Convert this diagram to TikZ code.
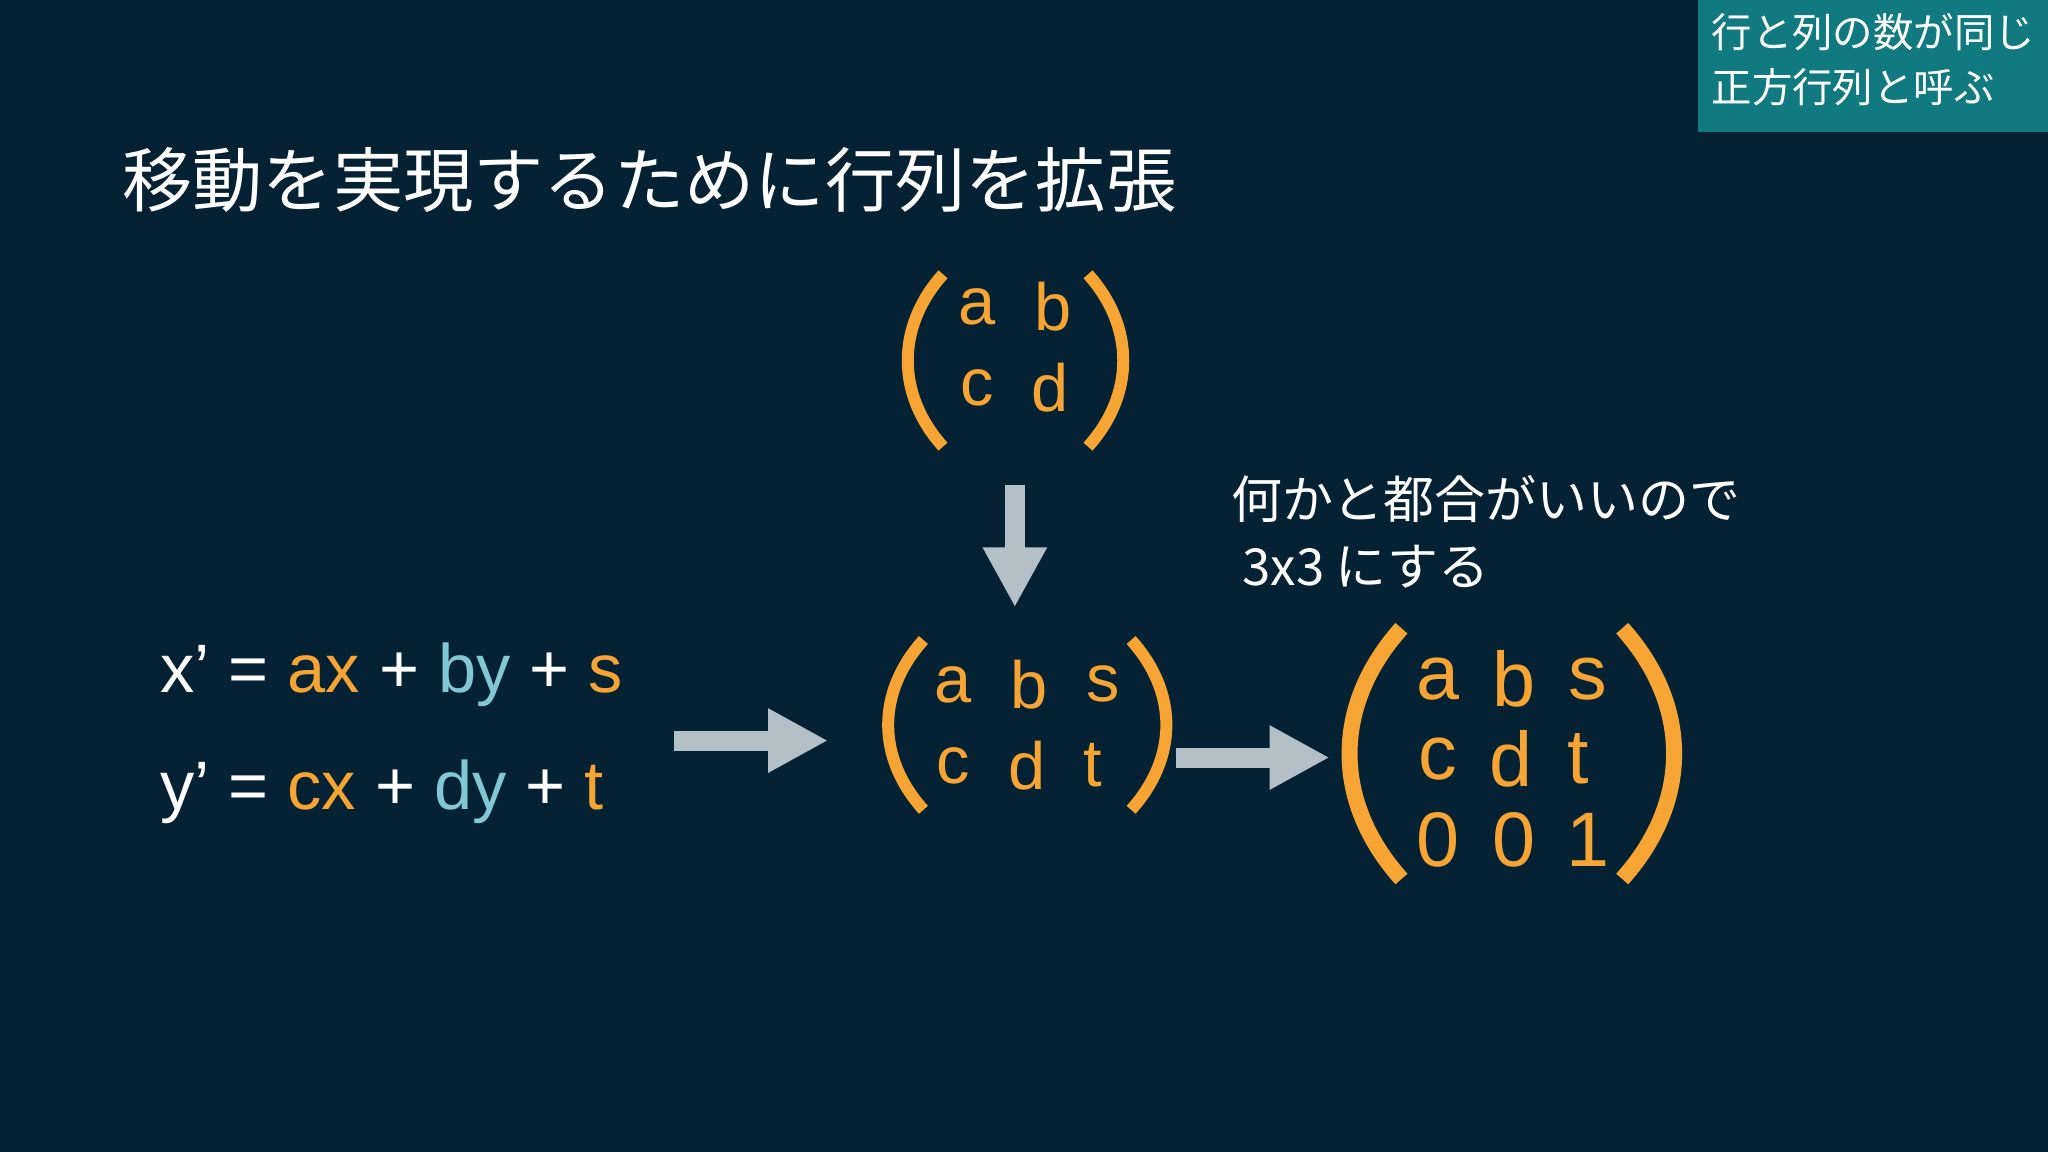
\documentclass[tikz,border=0pt]{standalone}
\usepackage{fontspec}
\setmainfont{Liberation Sans}
\newfontfamily\jp{Noto Sans CJK JP}
\usetikzlibrary{arrows.meta}
\definecolor{bg}{RGB}{4,34,51}
\definecolor{teal}{RGB}{17,122,128}
\definecolor{org}{RGB}{246,164,52}
\definecolor{lblue}{RGB}{130,200,212}
\definecolor{arr}{RGB}{180,192,200}
\tikzset{
 paren/.style={draw=org,line width=0.12cm},
 bigparen/.style={draw=org,line width=0.16cm},
 fat/.style={draw=arr,line width=0.2cm,-{Triangle[length=0.6cm,width=0.6cm]}},
 ent/.style={text=org,font=\fontsize{19}{22}\selectfont,inner sep=0pt},
 bent/.style={text=org,font=\fontsize{22}{25}\selectfont,inner sep=0pt},
 eq/.style={text=white,font=\fontsize{19.5}{23}\selectfont,anchor=west,inner sep=0pt},
}
\begin{document}
\begin{tikzpicture}[x=0.01306cm,y=-0.01306cm]
\fill[bg] (0,0) rectangle (1568,882);
\useasboundingbox (0,0) rectangle (1568,882);
\fill[teal] (1300,0) rectangle (1568,101);
\node[anchor=north west,text=white,align=left,inner sep=0pt,font=\jp\fontsize{11.5}{15.5}\selectfont] (note) at (1310,10) {行と列の数が同じ\\正方行列と呼ぶ};
\node[anchor=west,text=white,inner sep=0pt,font=\jp\fontsize{20}{24}\selectfont] (title) at (93,138) {移動を実現するために行列を拡張};
% top matrix
\node[ent] (a1) at (748,235) {a}; \node[ent] (b1) at (806,235) {b};
\node[ent] (c1) at (748,297) {c}; \node[ent] (d1) at (804,297) {d};
\draw[paren] (722,210) .. controls (686,250) and (686,302) .. (722,342);
\draw[paren] (833,210) .. controls (869,250) and (869,302) .. (833,342);
% mid matrix
\node[ent] (a2) at (730,524) {a}; \node[ent] (b2) at (788,524) {b}; \node[ent] (s2) at (845,524) {s};
\node[ent] (c2) at (730,586) {c}; \node[ent] (d2) at (786,586) {d}; \node[ent] (t2) at (837,586) {t};
\draw[paren] (707,490) .. controls (671,530) and (671,580) .. (707,620);
\draw[paren] (866,490) .. controls (902,530) and (902,580) .. (866,620);
% big matrix
\node[bent] (a3) at (1101,520) {a}; \node[bent] (b3) at (1159,520) {b}; \node[bent] (s3) at (1216,520) {s};
\node[bent] (c3) at (1101,581) {c}; \node[bent] (d3) at (1157,581) {d}; \node[bent] (t3) at (1208,581) {t};
\node[bent] (z1) at (1101,643) {0}; \node[bent] (z2) at (1159,643) {0}; \node[bent] (o3) at (1216,643) {1};
\draw[bigparen] (1073,481) .. controls (1020,540) and (1020,614) .. (1073,673);
\draw[bigparen] (1242,481) .. controls (1295,540) and (1295,614) .. (1242,673);
% equations
\node[eq] (eq1) at (122,517) {x’ = \textcolor{org}{ax} + \textcolor{lblue}{by} + \textcolor{org}{s}};
\node[eq] (eq2) at (122,606) {y’ = \textcolor{org}{cx} + \textcolor{lblue}{dy} + \textcolor{org}{t}};
% annotation
\node[anchor=west,text=white,align=left,inner sep=0pt,font=\jp\fontsize{14.5}{19}\selectfont] (ann) at (942,407) {何かと都合がいいので\\\ 3x3 にする};
% arrows
\coordinate (d0) at (777,371); \coordinate (d1e) at (777,465);
\coordinate (r0) at (516,567); \coordinate (r1) at (634,567);
\coordinate (s0) at (900,580); \coordinate (s1) at (1018,580);
\draw[fat] (d0) -- (d1e);
\draw[fat] (r0) -- (r1);
\draw[fat] (s0) -- (s1);
\end{tikzpicture}
\end{document}
